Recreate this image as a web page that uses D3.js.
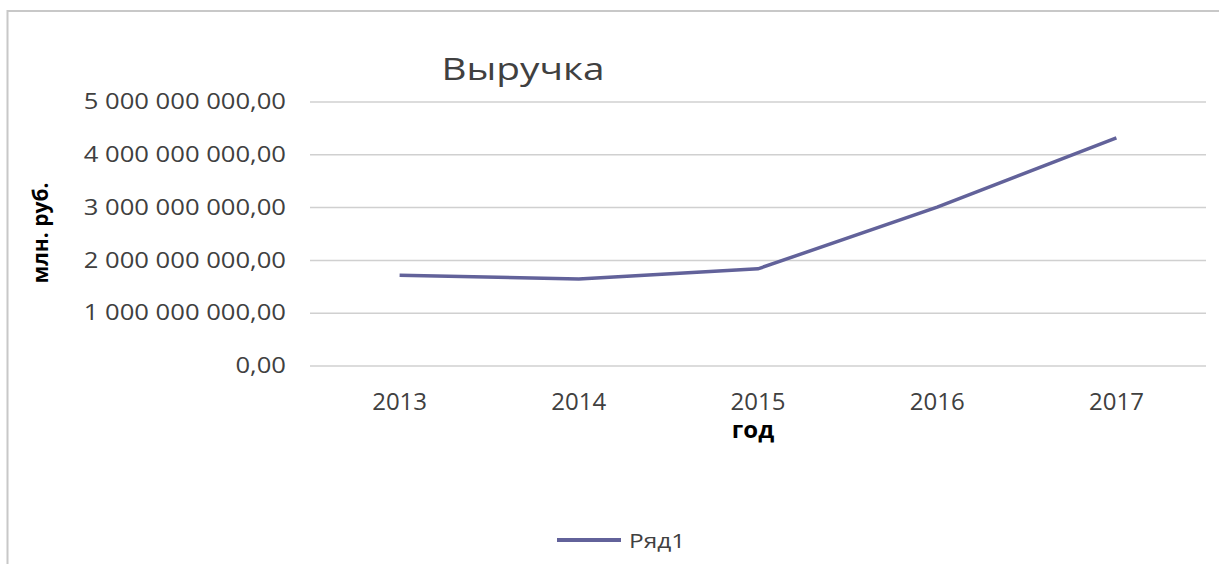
<!DOCTYPE html>
<html>
<head>
<meta charset="utf-8">
<script src="https://cdn.jsdelivr.net/npm/d3@7"></script>
<style>
  body { margin: 0; background: #fff; }
  svg text { font-family: "Open Sans", sans-serif; fill: #404040; }
</style>
</head>
<body>
<div id="chart"></div>
<script>
// chart data
const years = ["2013", "2014", "2015", "2016", "2017"];
const revenue = [1.72e9, 1.65e9, 1.84e9, 3.01e9, 4.32e9];
const yTicks = [0, 1e9, 2e9, 3e9, 4e9, 5e9];
const seriesName = "Ряд1";

const width = 1219, height = 564;
const margin = {top: 102, right: 13, bottom: 198, left: 310};
// the picture is a bit stretched sideways, so the texts are too
const stretch = 1.22;

const svg = d3.select("#chart")
    .append("svg")
    .attr("width", width)
    .attr("height", height);

// outer chart border (right and bottom are cut off in the picture)
svg.append("rect")
    .attr("x", 7.5)
    .attr("y", 11)
    .attr("width", width + 20)
    .attr("height", height + 20)
    .attr("fill", "none")
    .attr("stroke", "#c8c8c8")
    .attr("stroke-width", 2);

const x = d3.scaleBand()
    .domain(years)
    .range([margin.left, width - margin.right]);

const y = d3.scaleLinear()
    .domain([0, 5e9])
    .range([height - margin.bottom, margin.top]);

// number format like "5 000 000 000,00"
const ruFormat = d3.formatLocale({
    decimal: ",",
    thousands: "\u00a0",
    grouping: [3],
    currency: ["", ""]
}).format(",.2f");

// gridlines
svg.append("g")
    .selectAll("line")
    .data(yTicks)
    .enter().append("line")
    .attr("x1", margin.left)
    .attr("x2", width - margin.right)
    .attr("y1", d => y(d))
    .attr("y2", d => y(d))
    .attr("stroke", "#d0d0d0")
    .attr("stroke-width", 1.5);

// y axis labels
const yAxis = d3.axisLeft(y)
    .tickValues(yTicks)
    .tickSize(0)
    .tickFormat(ruFormat);

svg.append("g")
    .attr("transform", `translate(${margin.left},0)`)
    .call(yAxis)
    .call(g => g.select(".domain").remove())
    .call(g => g.selectAll("text")
        .attr("x", 0)
        .attr("transform", `translate(-24,0) scale(${stretch},1)`)
        .style("font-family", "Open Sans")
        .style("font-size", "21px")
        .attr("fill", "#404040"));

// x axis labels
const xAxis = d3.axisBottom(x).tickSize(0).tickPadding(27);
svg.append("g")
    .attr("transform", `translate(0,${height - margin.bottom})`)
    .call(xAxis)
    .call(g => g.select(".domain").remove())
    .call(g => g.selectAll("text")
        .style("font-family", "Open Sans")
        .style("font-size", "24px")
        .attr("fill", "#404040"));

// the line
const line = d3.line()
    .x((d, i) => x(years[i]) + x.bandwidth() / 2)
    .y(d => y(d));

svg.append("path")
    .datum(revenue)
    .attr("d", line)
    .attr("fill", "none")
    .attr("stroke", "#62629a")
    .attr("stroke-width", 3.5);

// title
svg.append("text")
    .attr("transform", "translate(523,80) scale(1.25,1)")
    .attr("text-anchor", "middle")
    .style("font-size", "31px")
    .text("Выручка");

// axis titles
svg.append("text")
    .attr("transform", "translate(48,233) rotate(-90)")
    .attr("text-anchor", "middle")
    .style("font-size", "21px")
    .style("font-weight", "bold")
    .style("fill", "#000")
    .text("млн. руб.");

svg.append("text")
    .attr("x", x("2015") + x.bandwidth() / 2 - 5)
    .attr("y", 438)
    .attr("text-anchor", "middle")
    .style("font-size", "24px")
    .style("font-weight", "bold")
    .style("fill", "#000")
    .text("год");

// legend
const legend = svg.append("g").attr("transform", "translate(557,540)");
legend.append("line")
    .attr("x1", 0).attr("x2", 64)
    .attr("stroke", "#62629a")
    .attr("stroke-width", 4);
legend.append("text")
    .attr("transform", `translate(72,7.5) scale(${stretch},1)`)
    .style("font-size", "20px")
    .text(seriesName);
</script>
</body>
</html>
